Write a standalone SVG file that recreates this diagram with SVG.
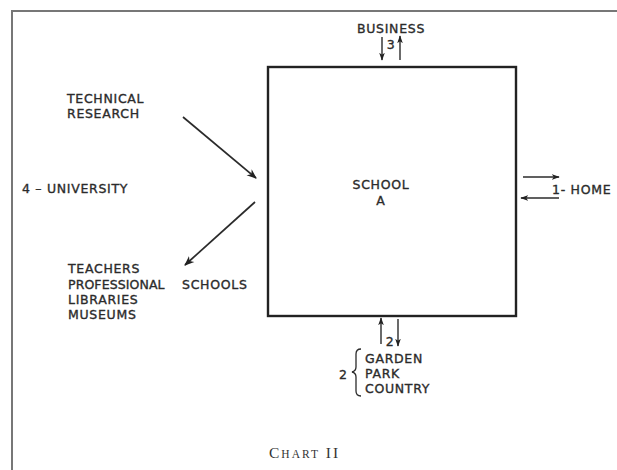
<svg xmlns="http://www.w3.org/2000/svg" width="617" height="470" viewBox="0 0 617 470">
<defs>
<marker id="ah" viewBox="0 0 10 10" refX="9" refY="5" markerWidth="10" markerHeight="10" markerUnits="userSpaceOnUse" orient="auto"><path d="M0,1 L10,5 L0,9 L3,5 Z" fill="#222"/></marker>
<marker id="ahs" viewBox="0 0 10 10" refX="9" refY="5" markerWidth="8" markerHeight="8" markerUnits="userSpaceOnUse" orient="auto"><path d="M0,1.5 L10,5 L0,8.5 L2.5,5 Z" fill="#222"/></marker>
<style>
.t{font-family:"DejaVu Sans",sans-serif;font-size:12.5px;fill:#2b2b2b;stroke:#2b2b2b;stroke-width:0.35;letter-spacing:0.7px}
.c{stroke:#2b2b2b;stroke-width:1.7;fill:none}
.cs{stroke:#2b2b2b;stroke-width:1.4;fill:none}
.cap{font-family:"Liberation Serif",serif;fill:#333;letter-spacing:2px}
</style>
</defs>
<rect width="617" height="470" fill="#fff"/>
<path d="M12,470 V11 H617" stroke="#777" stroke-width="2" fill="none"/>

<g id="school">
<rect x="268" y="67" width="248" height="249" fill="none" stroke="#222" stroke-width="2.4"/>
<text class="t" x="381" y="189" text-anchor="middle">SCHOOL</text>
<text class="t" x="381" y="205" text-anchor="middle">A</text>
</g>

<g id="business">
<text class="t" x="391" y="33" text-anchor="middle">BUSINESS</text>
<text class="t" x="391" y="49" text-anchor="middle">3</text>
</g>

<g id="technical-research">
<text class="t" x="67" y="103">TECHNICAL</text>
<text class="t" x="67" y="118">RESEARCH</text>
</g>

<g id="university">
<text class="t" x="22" y="193">4 – UNIVERSITY</text>
</g>

<g id="teachers">
<text class="t" x="68" y="273">TEACHERS</text>
<text class="t" x="68" y="289" style="letter-spacing:0.1px">PROFESSIONAL</text>
<text class="t" x="182" y="289">SCHOOLS</text>
<text class="t" x="68" y="304">LIBRARIES</text>
<text class="t" x="68" y="319">MUSEUMS</text>
</g>

<g id="home">
<text class="t" x="552" y="194">1- HOME</text>
</g>

<g id="garden">
<text class="t" x="390" y="346" text-anchor="middle">2</text>
<text class="t" x="339" y="379">2</text>
<path d="M361,349 Q356,349 356,354 V367 Q356,371 352,372 Q356,373 356,377 V391 Q356,396 361,396" stroke="#2b2b2b" stroke-width="1.3" fill="none"/>
<text class="t" x="365" y="363">GARDEN</text>
<text class="t" x="365" y="378">PARK</text>
<text class="t" x="365" y="393">COUNTRY</text>
</g>

<g id="caption">
<text class="cap" x="269" y="458"><tspan font-size="15.5">C</tspan><tspan font-size="11.5">HART</tspan><tspan font-size="15.5"> II</tspan></text>
</g>

<g id="connectors">
<line class="c" x1="183" y1="117" x2="256" y2="178" marker-end="url(#ah)"/>
<line class="c" x1="255" y1="202" x2="185" y2="265" marker-end="url(#ah)"/>
<line class="cs" x1="382" y1="37" x2="382" y2="60" marker-end="url(#ahs)"/>
<line class="cs" x1="400" y1="60" x2="400" y2="36" marker-end="url(#ahs)"/>
<line class="cs" x1="523" y1="177" x2="559" y2="177" marker-end="url(#ahs)"/>
<line class="cs" x1="559" y1="198" x2="521" y2="198" marker-end="url(#ahs)"/>
<line class="cs" x1="381" y1="344" x2="381" y2="318" marker-end="url(#ahs)"/>
<line class="cs" x1="398" y1="319" x2="398" y2="346" marker-end="url(#ahs)"/>
</g>
</svg>
